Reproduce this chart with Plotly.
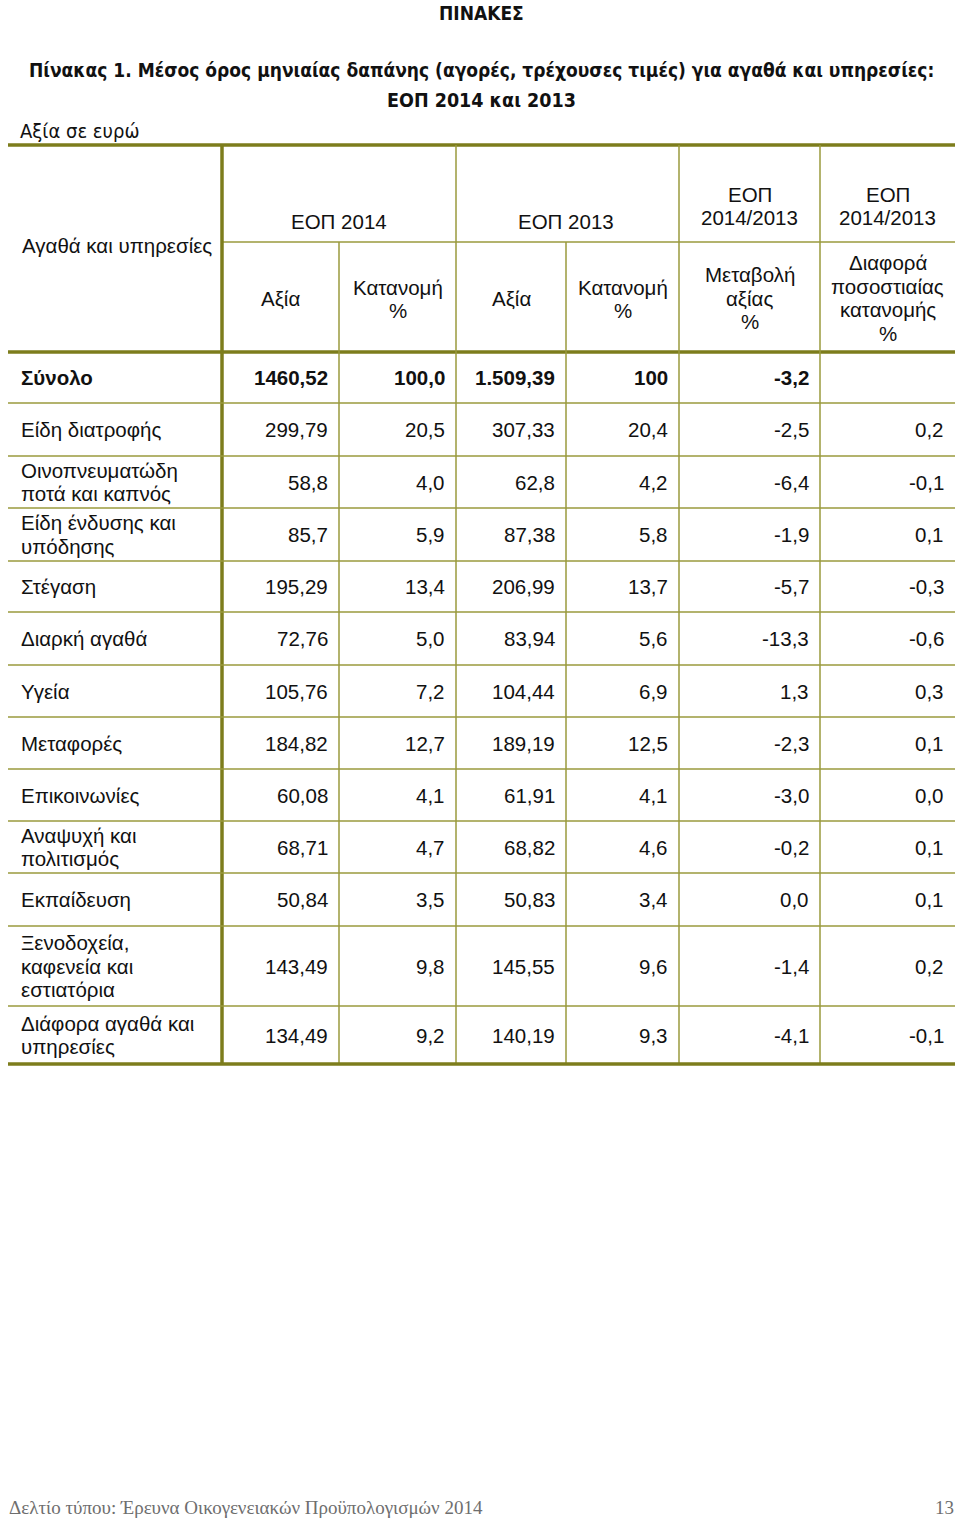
import plotly.graph_objects as go

# ---- data ----
categories = [
    "Σύνολο",
    "Είδη διατροφής",
    "Οινοπνευματώδη<br>ποτά και καπνός",
    "Είδη ένδυσης και<br>υπόδησης",
    "Στέγαση",
    "Διαρκή αγαθά",
    "Υγεία",
    "Μεταφορές",
    "Επικοινωνίες",
    "Αναψυχή και<br>πολιτισμός",
    "Εκπαίδευση",
    "Ξενοδοχεία,<br>καφενεία και<br>εστιατόρια",
    "Διάφορα αγαθά και<br>υπηρεσίες",
]
value_2014 = ["1460,52", "299,79", "58,8", "85,7", "195,29", "72,76", "105,76",
              "184,82", "60,08", "68,71", "50,84", "143,49", "134,49"]
share_2014 = ["100,0", "20,5", "4,0", "5,9", "13,4", "5,0", "7,2",
              "12,7", "4,1", "4,7", "3,5", "9,8", "9,2"]
value_2013 = ["1.509,39", "307,33", "62,8", "87,38", "206,99", "83,94", "104,44",
              "189,19", "61,91", "68,82", "50,83", "145,55", "140,19"]
share_2013 = ["100", "20,4", "4,2", "5,8", "13,7", "5,6", "6,9",
              "12,5", "4,1", "4,6", "3,4", "9,6", "9,3"]
value_change = ["-3,2", "-2,5", "-6,4", "-1,9", "-5,7", "-13,3", "1,3",
                "-2,3", "-3,0", "-0,2", "0,0", "-1,4", "-4,1"]
share_diff = ["", "0,2", "-0,1", "0,1", "-0,3", "-0,6", "0,3",
              "0,1", "0,0", "0,1", "0,1", "0,2", "-0,1"]

page_title = "ΠΙΝΑΚΕΣ"
table_title = ["Πίνακας 1. Μέσος όρος μηνιαίας δαπάνης (αγορές, τρέχουσες τιμές) για αγαθά και υπηρεσίες:",
               "ΕΟΠ 2014 και 2013"]
unit_note = "Αξία σε ευρώ"
footer_text = "Δελτίο τύπου: Έρευνα Οικογενειακών Προϋπολογισμών 2014"
page_number = "13"

# ---- layout geometry (pixels) ----
W, H = 960, 1521
X_LEFT, X_RIGHT = 8, 955
col_edges = [8, 222, 339, 456, 566, 679, 820, 955]
HDR_TOP, HDR_MID, HDR_BOT = 145, 242, 352
row_edges = [352, 403, 456, 508, 561, 612, 665, 717, 769, 821, 873, 926, 1006, 1064]

THICK = "#7d7d1c"
THIN = "#9a9a3c"
TXT = "#111111"
SANS = "Liberation Sans, Arial, sans-serif"
NARROW = "Liberation Sans Narrow, Arial Narrow, DejaVu Sans Condensed, sans-serif"
SERIF = "Liberation Serif, Times New Roman, serif"
FS = 20.5
LH = 23.5
PAD = 9

fig = go.Figure()
shapes = []
ann = []


def hline(y, x0, x1, color, w):
    shapes.append(dict(type="line", xref="x", yref="y", x0=x0, x1=x1, y0=y, y1=y,
                       line=dict(color=color, width=w)))


def vline(x, y0, y1, color, w):
    shapes.append(dict(type="line", xref="x", yref="y", x0=x, x1=x, y0=y0, y1=y1,
                       line=dict(color=color, width=w)))


def text(x, y, s, anchor="center", size=FS, font=SANS, color=TXT, bold=False):
    if bold:
        s = "<b>" + s + "</b>"
    ann.append(dict(x=x, y=y, xref="x", yref="y", text=s, showarrow=False,
                    xanchor=anchor, yanchor="middle", font=dict(family=font, size=size, color=color)))


def multiline(x, yc, s, anchor="center", bold=False):
    parts = s.split("<br>")
    n = len(parts)
    for i, p in enumerate(parts):
        text(x, yc + (i - (n - 1) / 2) * LH, p, anchor=anchor, bold=bold)


# titles
text(481, 12.5, page_title, size=19, font=NARROW, bold=True)
text(481, 70, table_title[0], size=19, font=NARROW, bold=True)
text(481, 100, table_title[1], size=19.5, font=NARROW, bold=True)
text(18, 131, unit_note, anchor="left", size=20, font=NARROW)

# header lines
hline(HDR_TOP, X_LEFT, X_RIGHT, THICK, 3.5)
hline(HDR_MID, col_edges[1], X_RIGHT, THIN, 1.5)
hline(HDR_BOT, X_LEFT, X_RIGHT, THICK, 3.5)
# vertical lines
vline(col_edges[1], HDR_TOP, row_edges[-1], THICK, 3.5)
for x in [col_edges[3], col_edges[5], col_edges[6]]:
    vline(x, HDR_TOP, row_edges[-1], THIN, 1.5)
for x in [col_edges[2], col_edges[4]]:
    vline(x, HDR_MID, row_edges[-1], THIN, 1.5)
# row lines
for y in row_edges[1:-1]:
    hline(y, X_LEFT, X_RIGHT, THIN, 1.5)
hline(row_edges[-1], X_LEFT, X_RIGHT, THICK, 3.5)

# header texts
multiline(117, 245, "Αγαθά και υπηρεσίες")
multiline(339, 221, "ΕΟΠ 2014")
multiline(566, 221, "ΕΟΠ 2013")
multiline(749.5, 206, "ΕΟΠ<br>2014/2013")
multiline(887.5, 206, "ΕΟΠ<br>2014/2013")
multiline(280.5, 298, "Αξία")
multiline(397.5, 299, "Κατανομή<br>%")
multiline(511, 298, "Αξία")
multiline(622.5, 299, "Κατανομή<br>%")
multiline(749.5, 298, "Μεταβολή<br>αξίας<br>%")
multiline(887.5, 298, "Διαφορά<br>ποσοστιαίας<br>κατανομής<br>%")

# body
columns = [value_2014, share_2014, value_2013, share_2013, value_change, share_diff]
for i, cat in enumerate(categories):
    yc = (row_edges[i] + row_edges[i + 1]) / 2
    bold = (i == 0)
    multiline(19, yc, cat, anchor="left", bold=bold)
    for j, col in enumerate(columns):
        if col[i]:
            text(col_edges[j + 2] - PAD, yc, col[i], anchor="right", bold=bold)

# footer
text(7, 1507, footer_text, anchor="left", size=19, font=SERIF, color="#6e6e6e")
text(956, 1507, page_number, anchor="right", size=19, font=SERIF, color="#6e6e6e")

fig.update_layout(
    width=W, height=H, autosize=False,
    margin=dict(l=0, r=0, t=0, b=0),
    paper_bgcolor="white", plot_bgcolor="white",
    xaxis=dict(range=[0, W], visible=False, fixedrange=True),
    yaxis=dict(range=[H, 0], visible=False, fixedrange=True),
    shapes=shapes, annotations=ann, showlegend=False,
)
fig.write_html("out.html", config={"displayModeBar": False},
               post_script="document.body.style.margin='0';document.body.style.overflow='hidden';")
